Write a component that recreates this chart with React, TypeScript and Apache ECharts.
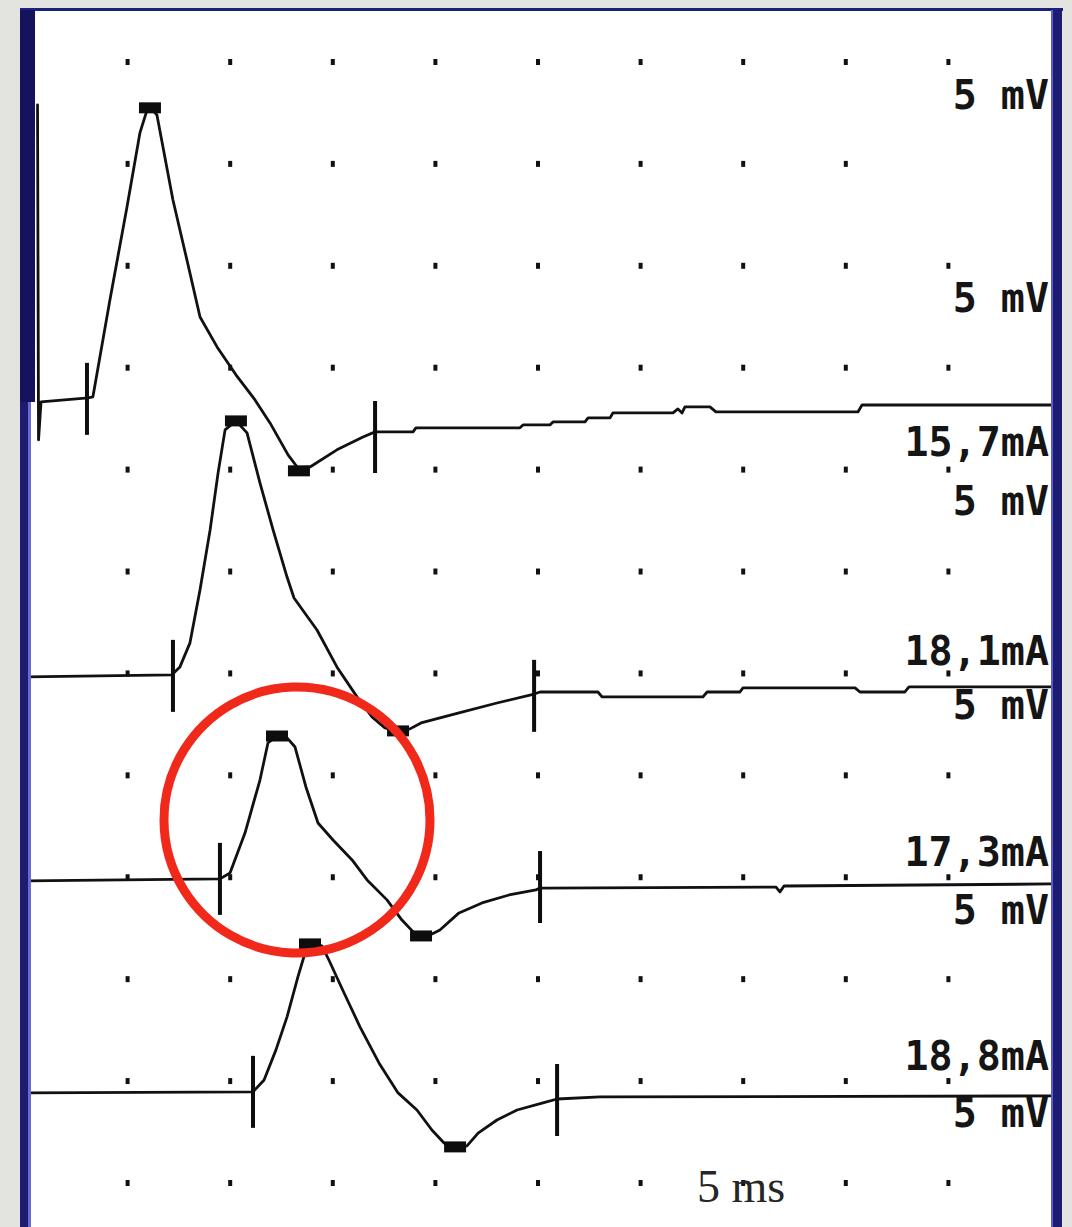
import React, { useEffect, useRef } from "react";
import * as echarts from "echarts";

// Time axis (ms) and amplitude axis (mV, traces stacked on screen)
const gridTimesMs = [5, 10, 15, 20, 25, 30, 35, 40, 45];
const gridLevelsMv = [0, 5, 10, 15, 20, 25, 30, 35, 40, 45, 50, 55];
const hiddenDots = [[45, 50]];

// Trace 1 (15,7 mA) – includes stimulus artefact at start
const trace1 = [
  [0.61, 52.89], [0.66, 36.46], [0.78, 38.32], [3.07, 38.52], [3.31, 38.57],
  [4.14, 43.33], [4.97, 47.89], [5.6, 51.52], [5.95, 52.65], [6.09, 52.8],
  [6.43, 52.4], [7.21, 48.23], [7.89, 45.29], [8.53, 42.49], [9.36, 41.02],
  [10.28, 39.65], [11.21, 38.42], [11.94, 37.29], [12.82, 35.72], [13.3, 35.08],
  [13.89, 35.13], [15.2, 35.97], [16.47, 36.6], [17.06, 36.85], [18.91, 36.85],
  [19.05, 37.05], [24.12, 37.05], [24.27, 37.19], [25.58, 37.19], [25.73, 37.34],
  [27.29, 37.34], [27.44, 37.54], [28.51, 37.54], [28.65, 37.78], [31.58, 37.78],
  [31.82, 37.98], [32.02, 37.78], [32.16, 38.08], [33.38, 38.08], [33.67, 37.83],
  [40.59, 37.83], [40.79, 38.17], [50.0, 38.17],
];
// Trace 2 (18,1 mA)
const trace2 = [
  [0.1, 24.83], [7.16, 24.93], [7.55, 25.32], [8.04, 26.5], [8.53, 29.1],
  [9.02, 32.04], [9.41, 34.84], [9.75, 36.95], [10.28, 37.39], [10.82, 36.8],
  [11.45, 34.35], [12.09, 32.04], [12.77, 29.73], [13.11, 28.7], [14.23, 27.13],
  [15.2, 25.32], [16.18, 23.85], [16.91, 22.87], [17.54, 22.33], [18.08, 22.18],
  [18.76, 22.28], [19.3, 22.57], [21.15, 23.06], [23.0, 23.55], [24.81, 23.99],
  [25.1, 24.09], [27.92, 24.09], [28.12, 23.85], [33.04, 23.85], [33.24, 24.09],
  [34.84, 24.09], [34.99, 24.29], [40.45, 24.29], [40.69, 24.09], [42.88, 24.09],
  [43.08, 24.34], [50.0, 24.34],
];
// Trace 3 (17,3 mA)
const trace3 = [
  [0.1, 14.82], [9.5, 14.92], [9.99, 15.21], [10.72, 17.17], [11.45, 19.77],
  [11.84, 21.59], [12.28, 21.93], [12.77, 21.84], [13.16, 21.39], [13.69, 19.43],
  [14.28, 17.66], [15.01, 16.83], [15.94, 15.85], [16.67, 14.87], [17.64, 13.89],
  [18.37, 12.9], [19.01, 12.22], [19.3, 12.12], [19.83, 12.22], [20.22, 12.41],
  [21.15, 13.25], [22.27, 13.74], [23.59, 14.13], [24.9, 14.38], [25.1, 14.47],
  [36.6, 14.52], [36.79, 14.28], [36.99, 14.57], [50.0, 14.67],
];
// Trace 4 (18,8 mA)
const trace4 = [
  [0.1, 4.42], [11.11, 4.47], [11.65, 5.05], [12.23, 6.53], [12.77, 8.15],
  [13.3, 10.11], [13.69, 11.43], [13.89, 11.73], [14.47, 11.63], [14.81, 10.94],
  [15.55, 9.32], [16.33, 7.65], [17.25, 5.89], [18.18, 4.42], [19.1, 3.58],
  [19.83, 2.6], [20.42, 1.96], [20.96, 1.72], [21.54, 1.82], [22.08, 2.45],
  [23.0, 3.09], [23.98, 3.58], [25.24, 3.93], [25.93, 4.12], [28.02, 4.22],
  [50.0, 4.27],
];

const peakMarkers = [[6.09, 52.75], [10.28, 37.39], [12.28, 21.93], [13.89, 11.73]];
const troughMarkers = [[13.35, 34.94], [18.18, 22.18], [19.3, 12.12], [20.96, 1.77]];
const onsetMarkers = [[3.02, 38.47], [7.21, 24.88], [9.5, 14.92], [11.11, 4.47]];
const offsetMarkers = [[17.06, 36.6], [24.81, 23.9], [25.1, 14.52], [25.93, 4.07]];

const currentLabels = ["15,7mA", "18,1mA", "17,3mA", "18,8mA"];
const gainLabel = "5 mV";
const timebaseLabel = "5 ms";

export default function App() {
  const ref = useRef<HTMLDivElement>(null);
  useEffect(() => {
    if (!ref.current) return;
    const chart = echarts.init(ref.current, null, { renderer: "svg" });

    const dots: number[][] = [];
    gridTimesMs.forEach((x) =>
      gridLevelsMv.forEach((y) => {
        if (!hiddenDots.some((d) => d[0] === x && d[1] === y)) dots.push([x, y]);
      })
    );

    const traceSeries = [trace1, trace2, trace3, trace4].map((d) => ({
      type: "line",
      data: d,
      showSymbol: false,
      silent: true,
      z: 3,
      lineStyle: { color: "#111111", width: 2.8, join: "round", cap: "round" },
    }));

    const labelFont = "bold 40px 'DejaVu Sans Mono', monospace";
    const rightX = 1049;
    const textEl = (t: string, y: number) => ({
      type: "text",
      right: 1072 - rightX,
      top: y - 24,
      z: 20,
      style: { text: t, font: labelFont, fill: "#151515" },
    });
    const gainYs = [99, 302, 505, 709, 914, 1117];
    const currentYs = [446, 655, 856, 1060];

    chart.setOption({
      animation: false,
      backgroundColor: "#e3e3df",
      grid: {
        left: 25,
        right: 21,
        top: 10,
        bottom: 0,
        show: true,
        backgroundColor: "#ffffff",
        borderWidth: 0,
      },
      xAxis: { type: "value", min: 0, max: 50, show: false },
      yAxis: { type: "value", min: -2.16, max: 57.55, show: false },
      series: [
        {
          type: "scatter",
          data: dots,
          symbol: "rect",
          symbolSize: [4, 6],
          itemStyle: { color: "#111", opacity: 1 },
          silent: true,
          z: 2,
        },
        ...traceSeries,
        {
          type: "scatter",
          data: [...peakMarkers, ...troughMarkers],
          symbol: "rect",
          symbolSize: [22, 11],
          itemStyle: { color: "#0d0d0d", opacity: 1 },
          silent: true,
          z: 4,
        },
        {
          type: "scatter",
          data: [...onsetMarkers, ...offsetMarkers],
          symbol: "rect",
          symbolSize: [4, 72],
          itemStyle: { color: "#0d0d0d", opacity: 1 },
          silent: true,
          z: 4,
        },
      ],
      graphic: [
        // frame
        { type: "rect", shape: { x: 20, y: 8, width: 1043, height: 3 }, style: { fill: "#1e2080" }, z: 10 },
        { type: "rect", shape: { x: 20, y: 10, width: 8, height: 1217 }, style: { fill: "#1c1c72" }, z: 10 },
        { type: "rect", shape: { x: 28, y: 10, width: 3, height: 1217 }, style: { fill: "#6a6ad2" }, z: 10 },
        { type: "rect", shape: { x: 20, y: 10, width: 15, height: 392 }, style: { fill: "#15135c" }, z: 10 },
        { type: "rect", shape: { x: 1051, y: 10, width: 11, height: 1217 }, style: { fill: "#1c1c72" }, z: 10 },
        { type: "rect", shape: { x: 1051, y: 10, width: 2, height: 1217 }, style: { fill: "#5e5ec8" }, z: 10 },
        ...gainYs.map((y) => textEl(gainLabel, y)),
        ...currentLabels.map((t, i) => textEl(t, currentYs[i])),
        {
          type: "text",
          left: 697,
          top: 1163,
          z: 20,
          style: { text: timebaseLabel, font: "46px 'Liberation Serif', serif", fill: "#262626" },
        },
        {
          type: "circle",
          shape: { cx: 297, cy: 820, r: 133 },
          style: { fill: "none", stroke: "#f0291b", lineWidth: 9 },
          z: 30,
        },
      ],
    });
    return () => chart.dispose();
  }, []);
  return (
    <div
      ref={ref}
      style={{ position: "absolute", left: 0, top: 0, width: 1072, height: 1227 }}
    />
  );
}
